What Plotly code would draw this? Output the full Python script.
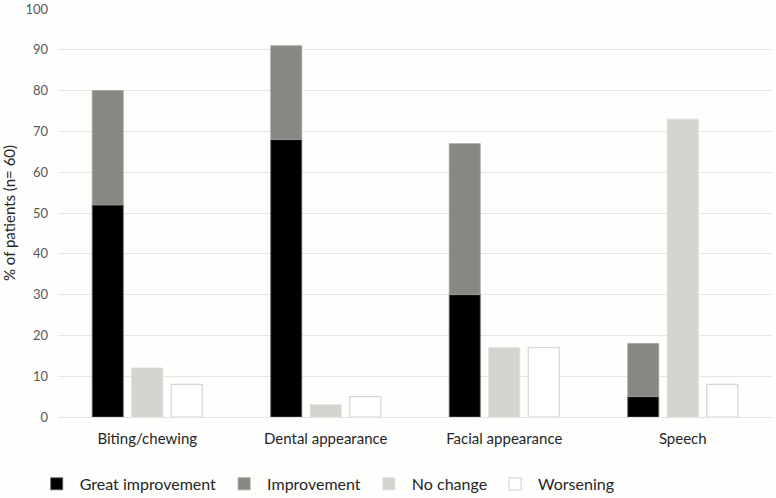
import plotly.graph_objects as go

categories = ["Biting/chewing", "Dental appearance", "Facial appearance", "Speech"]
great_improvement = [52, 68, 30, 5]
improvement = [28, 23, 37, 13]
no_change = [12, 3, 17, 73]
worsening = [8, 5, 17, 8]
y_ticks = [0, 10, 20, 30, 40, 50, 60, 70, 80, 90, 100]

FONT = "Lato, 'Open Sans', sans-serif"
BG = "#fefefc"

fig = go.Figure()
fig.add_trace(go.Bar(
    name="Great improvement", x=categories, y=great_improvement, offsetgroup="a",
    marker=dict(color="#000000", line=dict(color="#5a5a58", width=0.8)),
))
fig.add_trace(go.Bar(
    name="Improvement", x=categories, y=improvement, base=great_improvement, offsetgroup="a",
    marker=dict(color="#878883", line=dict(color="#a0a19c", width=0.8)),
))
fig.add_trace(go.Bar(
    name="No change", x=categories, y=no_change, offsetgroup="b",
    marker=dict(color="#d3d4d0", line=dict(color="#dcddd9", width=0.8)),
))
fig.add_trace(go.Bar(
    name="Worsening", x=categories, y=worsening, offsetgroup="c",
    marker=dict(color="#ffffff", line=dict(color="#d6d6d3", width=1.2)),
))

fig.update_layout(
    width=776, height=498,
    margin=dict(l=58, r=4, t=9, b=81, autoexpand=False),
    paper_bgcolor=BG, plot_bgcolor=BG,
    barmode="group", bargap=0.336, bargroupgap=0.215,
    font=dict(family=FONT, color="#595959"),
    showlegend=True,
    legend=dict(
        orientation="h", x=-0.034, xanchor="left", y=-0.164, yanchor="middle",
        font=dict(size=16, color="#262626", family=FONT),
        traceorder="normal", bgcolor="rgba(0,0,0,0)", itemwidth=36,
    ),
    xaxis=dict(
        automargin=False,
        tickfont=dict(size=15, color="#262626"),
        showline=True, linecolor="#e3e3e0", linewidth=1,
        ticks="", showgrid=False, ticklabelstandoff=8,
    ),
    yaxis=dict(
        automargin=False,
        range=[0, 100], tickvals=y_ticks, ticktext=[str(v) for v in y_ticks],
        tickfont=dict(size=13, color="#595959"),
        showgrid=True, gridcolor="#e6e6e3", gridwidth=1,
        zeroline=False, showline=False, ticks="", ticklabelstandoff=9,
        title=dict(text="% of patients (n= 60)", font=dict(size=15, color="#262626"), standoff=10),
    ),
)

fig.write_html(
    "out.html",
    config={"displayModeBar": False},
    post_script="document.body.style.margin='0';document.body.style.background='#fefefc';",
)
